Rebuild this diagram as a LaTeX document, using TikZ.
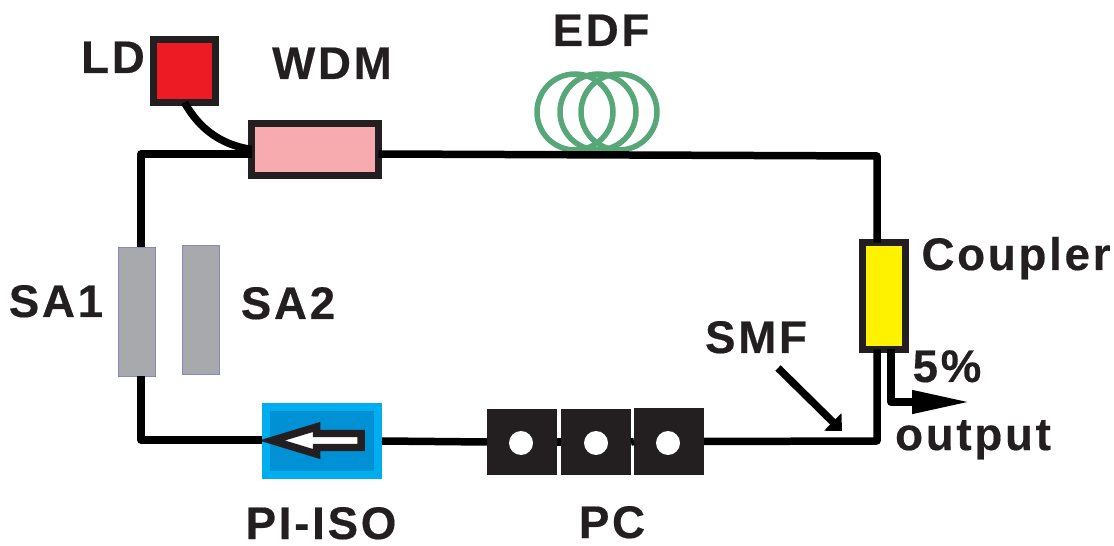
\documentclass[tikz,border=0pt]{standalone}
\usepackage{fontspec}
\setmainfont[LetterSpace=6, BoldFeatures={FakeBold=0.4}]{Liberation Sans}
\usepackage{xcolor}
\usetikzlibrary{arrows.meta}
\definecolor{boxdark}{HTML}{231F20}
\definecolor{ldred}{HTML}{ED1C24}
\definecolor{wdmpink}{HTML}{F7ABAE}
\definecolor{edfgreen}{HTML}{57A778}
\definecolor{sagrey}{HTML}{A7A9AC}
\definecolor{saedge}{HTML}{8A86C2}
\definecolor{isoblue}{HTML}{00AEEF}
\definecolor{isodeep}{HTML}{0090D4}
\definecolor{couplyellow}{HTML}{FFF200}

\tikzset{
	fiber/.style = {line width = 0.15cm, line join = round},
	device/.style = {draw = boxdark, line width = 0.15cm, inner sep = 0pt, outer sep = 0pt},
	absorber/.style = {draw = saedge, line width = 0.4pt, fill = sagrey, inner sep = 0pt, outer sep = 0pt, minimum width = 0.74cm, minimum height = 2.58cm},
	pcblock/.style = {fill = boxdark, inner sep = 0pt, outer sep = 0pt, minimum width = 1.40cm, minimum height = 1.33cm},
	pchole/.style = {circle, fill = white, inner sep = 0pt, minimum size = 0.48cm},
	edfloop/.style = {circle, draw = edfgreen, line width = 0.11cm, inner sep = 0pt, outer sep = 0pt, minimum size = 1.52cm},
	lbl/.style = {anchor = base, text = boxdark, font = \fontsize{26}{28}\selectfont\bfseries, inner sep = 0pt}
}

\begin{document}
\begin{tikzpicture}[x = 0.02cm, y = -0.02cm]
	\useasboundingbox (0,0) rectangle (1114,546);

	\coordinate (tl) at (141,154);
	\coordinate (tr) at (877,156);
	\coordinate (bl) at (141,440);
	\coordinate (br) at (877,441);
	\coordinate (smfstart) at (778,368);
	\coordinate (smfend) at (842,431);
	\coordinate (outbend) at (891,402);
	\coordinate (outend) at (970,402);

	% loops of the gain fibre go under the line
	\draw (575,112) node[edfloop] (edf1) {}
	(598,112) node[edfloop] (edf2) {}
	(619,112) node[edfloop] (edf3) {};

	\draw (184.5,71) node[device, fill = ldred, minimum width = 1.24cm, minimum height = 1.26cm] (ld) {}
	(315,149.5) node[device, fill = wdmpink, minimum width = 2.54cm, minimum height = 1.04cm] (wdm) {}
	(884,296) node[device, fill = couplyellow, minimum width = 0.86cm, minimum height = 2.14cm] (coupler) {}
	(137,311.5) node[absorber] (sa1) {}
	(200.5,310) node[absorber] (sa2) {}
	(322,441) node[fill = isoblue, inner sep = 0pt, outer sep = 0pt, minimum width = 2.40cm, minimum height = 1.52cm] (iso) {}
	(322,441) node[fill = isodeep, inner sep = 0pt, minimum width = 2.08cm, minimum height = 1.22cm] (isoin) {}
	(522,442) node[pcblock] (pc1) {}
	(596,442) node[pcblock] (pc2) {}
	(669,441.5) node[pcblock] (pc3) {}
	(521,443) node[pchole] (hole1) {}
	(596,443) node[pchole] (hole2) {}
	(668,443) node[pchole] (hole3) {};

	% isolator direction mark
	\draw[draw = boxdark, fill = white, line width = 0.15cm, miter limit = 10] (361,433.5) -- (316.5,433.5) -- (316.5,427) -- (272,440.5) -- (316.5,454) -- (316.5,447.5) -- (361,447.5) -- cycle;

	\draw[fiber] (wdm.west |- tl) -- (tl) -- (tl |- sa1.north);
	\draw[fiber] (tl |- sa1.south) -- (bl) -- (iso.west |- bl);
	\draw[fiber] (iso.east) -- (pc1.west);
	\draw[fiber] (pc1.east) -- (pc2.west);
	\draw[fiber] (pc2.east) -- (pc3.west);
	\draw[fiber] (pc3.east) -- (br) -- (br |- coupler.south);
	\draw[fiber] (br |- coupler.north) -- (tr) -- (wdm.east |- tl);
	\draw[fiber] (ld.south) .. controls (200,130) and (222,145) .. (wdm.west);
	\draw[fiber, -{Triangle[length = 1.16cm, width = 0.44cm]}] (coupler.south -| outbend) -- (outbend) -- (outend);
	\draw[fiber, -{Triangle[length = 0.26cm, width = 0.48cm]}] (smfstart) -- (smfend);

	\draw (113,73) node[lbl] (ldtext) {LD}
	(332,79) node[lbl] (wdmtext) {WDM}
	(601,46) node[lbl] (edftext) {EDF}
	(56,317) node[lbl] (sa1text) {SA1}
	(288,319) node[lbl] (sa2text) {SA2}
	(321,539) node[lbl] (isotext) {PI-ISO}
	(612,538) node[lbl] (pctext) {PC}
	(756,353) node[lbl] (smftext) {SMF}
	(1016,270) node[lbl] (couplertext) {Coupler}
	(947,382) node[lbl] (fivetext) {5\%}
	(973,450) node[lbl] (outputtext) {output};
\end{tikzpicture}
\end{document}
